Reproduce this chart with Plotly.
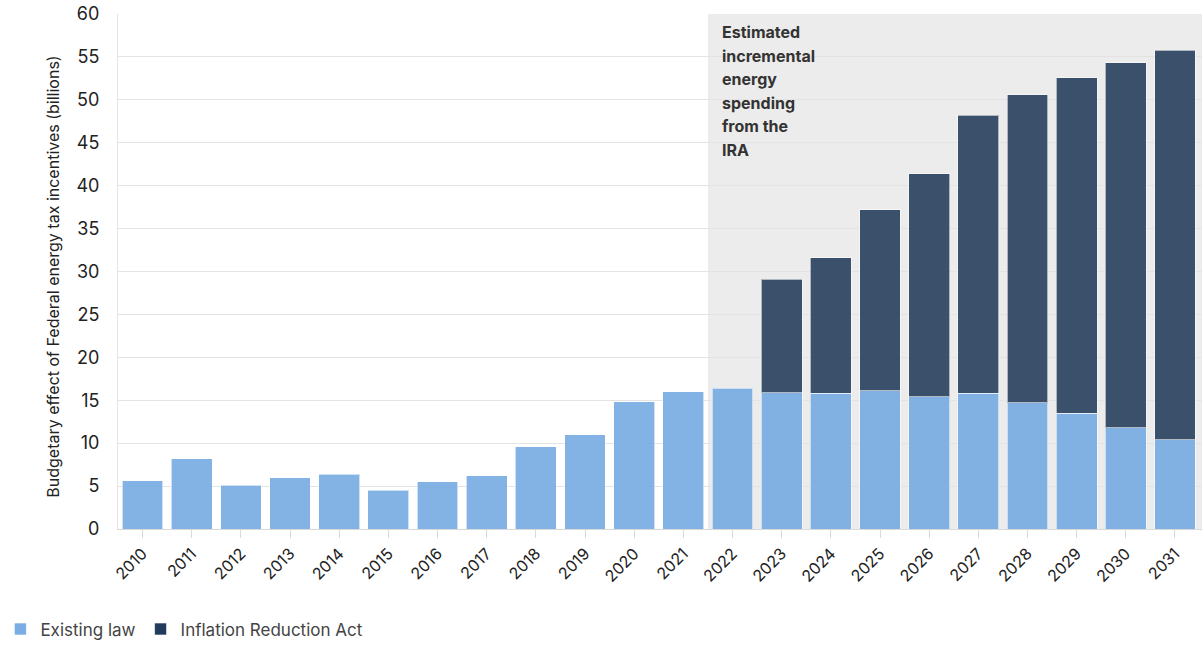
import plotly.graph_objects as go

years = [str(y) for y in range(2010, 2032)]
existing_law = [5.6, 8.2, 5.1, 6.0, 6.4, 4.5, 5.5, 6.2, 9.6, 11.0, 14.8, 16.0,
                16.4, 15.9, 15.8, 16.1, 15.4, 15.8, 14.7, 13.5, 11.8, 10.4]
ira = [None, None, None, None, None, None, None, None, None, None, None, None,
       None, 13.2, 15.8, 21.1, 26.0, 32.4, 35.9, 39.1, 42.5, 45.4]

y_ticks = list(range(0, 61, 5))
annotation_lines = ["Estimated", "incremental", "energy", "spending", "from the", "IRA"]
font_family = "Inter, 'Open Sans', sans-serif"

fig = go.Figure()
fig.add_trace(go.Bar(
    x=years, y=existing_law, name="Existing law",
    marker=dict(color="#79ade3", opacity=0.92,
                line=dict(color="rgba(255,255,255,0.6)", width=1)),
))
fig.add_trace(go.Bar(
    x=years, y=ira, name="Inflation Reduction Act",
    marker=dict(color="#233b5a", opacity=0.88,
                line=dict(color="rgba(255,255,255,0.6)", width=1)),
))

fig.add_shape(type="rect", xref="x", yref="y", x0=11.5, x1=21.6, y0=0, y1=60,
              fillcolor="#ececec", line=dict(width=0), layer="below")

# annotation block, one line per annotation for the reference's looser line spacing
plot_top_px, plot_h_px = 14, 515
for i, line in enumerate(annotation_lines):
    y_px = 32 + i * 23.6
    fig.add_annotation(xref="x", yref="paper", x=11.74,
                       y=1 - (y_px - plot_top_px) / plot_h_px,
                       xanchor="left", yanchor="middle",
                       text="<b>" + line + "</b>", showarrow=False, align="left",
                       font=dict(size=16, color="#333333", family=font_family))

fig.add_annotation(xref="paper", yref="paper", x=-0.071, y=0.49, textangle=-90,
                   text="Budgetary effect of Federal energy tax incentives (billions)",
                   showarrow=False, font=dict(size=16, color="#222222", family=font_family))

fig.update_layout(
    width=1202, height=649,
    margin=dict(l=118, r=0, t=14, b=120),
    barmode="stack", bargap=0.17,
    plot_bgcolor="white", paper_bgcolor="white",
    font=dict(family=font_family, color="#222222"),
    showlegend=True,
    legend=dict(orientation="h", x=-0.1085, y=-0.23, xanchor="left", yanchor="bottom",
                font=dict(size=17, color="#444444"), traceorder="normal",
                itemwidth=30),
    xaxis=dict(type="category", tickangle=-45, tickfont=dict(size=16, color="#222222"),
               showline=True, linecolor="#d9d9d9", ticks="outside", ticklen=8,
               tickcolor="#d9d9d9", range=[-0.5, 21.55], showgrid=False,
               automargin=False),
    yaxis=dict(range=[0, 60], tickvals=y_ticks, tickfont=dict(size=18, color="#222222"),
               showgrid=True, gridcolor="#e3e3e3", showline=True, linecolor="#e3e3e3",
               zeroline=False, ticks="", ticklabelstandoff=14, automargin=False),
)

fig.write_html("out.html")
